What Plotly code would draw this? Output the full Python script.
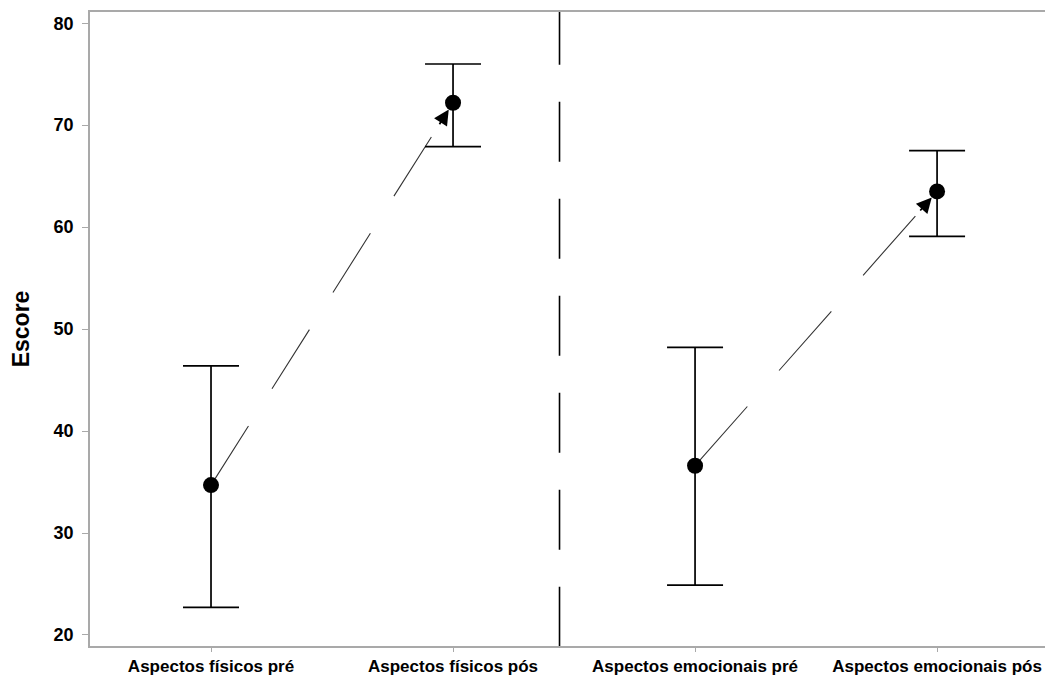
import plotly.graph_objects as go

# ---- data ----
categories = ["Aspectos físicos pré", "Aspectos físicos pós",
              "Aspectos emocionais pré", "Aspectos emocionais pós"]
means = [34.7, 72.2, 36.6, 63.5]
upper = [46.4, 76.0, 48.2, 67.5]
lower = [22.7, 67.9, 24.9, 59.1]
y_ticks = [20, 30, 40, 50, 60, 70, 80]
pairs = [(0, 1), (2, 3)]          # pre -> pos connections
separator_pos = 1.44              # dashed panel divider between the two groups

# ---- style ----
x_range = [-0.5, 3.479]
y_range = [18.92, 81.1]
axis_grey = "#a9a9a9"
font_family = "Liberation Sans, Arial, sans-serif"
dash_patterns = ["70px,44px", "79px,48px"]
arrow_start_frac = [0.94, 0.925]

xs = list(range(len(categories)))

fig = go.Figure()

# connecting dashed lines
for (a, b), dash in zip(pairs, dash_patterns):
    fig.add_trace(go.Scatter(
        x=[xs[a], xs[b]], y=[means[a], means[b]], mode="lines",
        line=dict(color="#333333", width=1.1, dash=dash),
        hoverinfo="skip", showlegend=False))

# separator line (extends beyond range so the dash phase matches; clipped)
fig.add_trace(go.Scatter(
    x=[separator_pos, separator_pos], y=[y_range[1] + 0.7, y_range[0]],
    mode="lines", line=dict(color="black", width=1.6, dash="60px,37px"),
    hoverinfo="skip", showlegend=False))

# means with interval bars
fig.add_trace(go.Scatter(
    x=xs, y=means, mode="markers",
    marker=dict(color="black", size=16, symbol="circle"),
    error_y=dict(type="data", symmetric=False,
                 array=[u - m for u, m in zip(upper, means)],
                 arrayminus=[m - l for l, m in zip(lower, means)],
                 color="black", thickness=1.7, width=28),
    showlegend=False))

# arrowheads at the "pós" end
for (a, b), frac in zip(pairs, arrow_start_frac):
    ax = xs[a] + frac * (xs[b] - xs[a])
    ay = means[a] + frac * (means[b] - means[a])
    fig.add_annotation(
        x=xs[b], y=means[b], ax=ax, ay=ay, xref="x", yref="y",
        axref="x", ayref="y", text="", showarrow=True,
        arrowhead=2, arrowsize=1.7, arrowwidth=1.8, arrowcolor="black",
        standoff=8)

# the page body adds an 8px margin, so the figure is sized to fit the window
fig.update_layout(
    width=1045, height=669,
    margin=dict(l=82, r=0, t=4, b=31),
    paper_bgcolor="white", plot_bgcolor="white",
    font=dict(family=font_family, color="black"),
    xaxis=dict(
        range=x_range, tickmode="array", tickvals=xs, ticktext=categories,
        tickfont=dict(size=17, weight="bold", family=font_family),
        showgrid=False, zeroline=False, automargin=False,
        showline=True, linecolor=axis_grey, linewidth=1.6, mirror=True,
        ticks="outside", ticklen=4, tickcolor=axis_grey, tickwidth=1,
        ticklabelstandoff=0,
    ),
    yaxis=dict(
        range=y_range, tickmode="array", tickvals=y_ticks,
        tickfont=dict(size=18, weight="bold", family=font_family),
        showgrid=False, zeroline=False, automargin=False,
        showline=True, linecolor=axis_grey, linewidth=1.6, mirror=False,
        ticks="outside", ticklen=6, tickcolor=axis_grey, tickwidth=1.2,
        ticklabelstandoff=5,
        title=dict(text="Escore", standoff=18,
                   font=dict(size=23, weight="bold", family=font_family)),
    ),
)

fig.write_html("out.html")
